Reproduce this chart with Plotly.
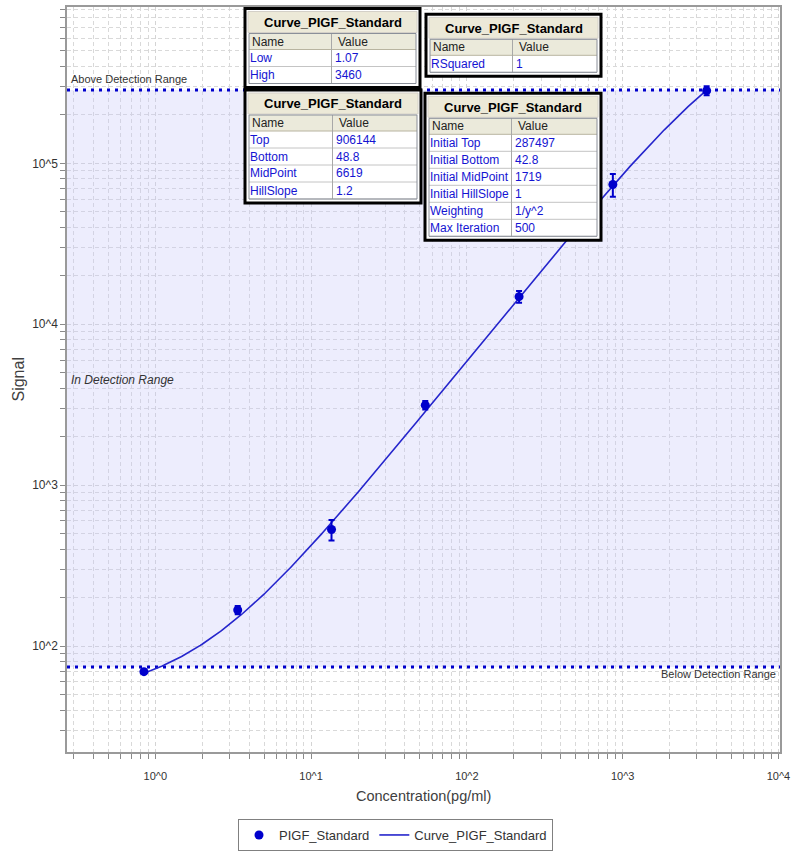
import numpy as np
import plotly.graph_objects as go

# ---- standard measurements -------------------------------------------------
conc = [0.845, 3.38, 13.52, 54.06, 216.25, 865.0, 3460.0]          # pg/ml
signal = [69.5, 168, 531, 3145, 14840, 73800, 282700]
signal_sd = [2, 10, 78, 190, 1230, 11900, 18000]

# ---- fit results (4-parameter logistic) ------------------------------------
fit_names = ["Top", "Bottom", "MidPoint", "HillSlope"]
fit_values = [906144, 48.8, 6619, 1.2]

range_names = ["Low", "High"]
range_values = [1.07, 3460]

gof_names = ["RSquared"]
gof_values = ["1"]

init_names = ["Initial Top", "Initial Bottom", "Initial MidPoint",
              "Initial HillSlope", "Weighting", "Max Iteration"]
init_values = ["287497", "42.8", "1719", "1", "1/y^2", "500"]

x_tick_vals = [1, 10, 100, 1000, 10000]
x_tick_text = ["10^0", "10^1", "10^2", "10^3", "10^4"]
y_tick_vals = [100, 1000, 10000, 100000]
y_tick_text = ["10^2", "10^3", "10^4", "10^5"]

TABLE_TITLE = "Curve_PIGF_Standard"

# ---- page geometry ---------------------------------------------------------
W, H = 791, 852
ML, MR, MT, MB = 67, 11, 7, 100
PW, PH = W - ML - MR, H - MT - MB

X_RANGE = [-0.567, 4.01]
Y_RANGE = [1.343, 5.971]

BLUE = "#0000CC"
FONT = "Liberation Sans, Arial, sans-serif"


def xp(px):
    return (px - ML) / PW


def yp(py):
    return (MT + PH - py) / PH


def logistic4(x, top, bottom, mid, hill):
    x = np.asarray(x, dtype=float)
    return bottom + (top - bottom) / (1.0 + (mid / x) ** hill)


top, bottom, mid, hill = fit_values
low_conc, high_conc = range_values
low_sig = float(logistic4(low_conc, top, bottom, mid, hill))
high_sig = float(logistic4(high_conc, top, bottom, mid, hill))

x_lo, x_hi = 10 ** X_RANGE[0], 10 ** X_RANGE[1]

fig = go.Figure()

# detection band
fig.add_trace(go.Scatter(
    x=[x_lo, x_hi, x_hi, x_lo, x_lo], y=[low_sig, low_sig, high_sig, high_sig, low_sig],
    fill="toself", fillcolor="rgba(200,200,250,0.33)", line=dict(width=0),
    mode="lines", hoverinfo="skip", showlegend=False))

# detection limits
for lvl in (low_sig, high_sig):
    fig.add_trace(go.Scatter(
        x=[x_lo, x_hi], y=[lvl, lvl], mode="lines",
        line=dict(color=BLUE, width=3, dash="3px,5px"),
        hoverinfo="skip", showlegend=False))

# standards with error bars
fig.add_trace(go.Scatter(
    x=conc, y=signal, mode="markers", name="PIGF_Standard",
    marker=dict(color=BLUE, size=9, symbol="circle"),
    error_y=dict(type="data", array=signal_sd, color=BLUE, thickness=2, width=3)))

# fitted curve
xc = np.geomspace(min(conc), max(conc), 400)
fig.add_trace(go.Scatter(
    x=xc, y=logistic4(xc, top, bottom, mid, hill), mode="lines",
    name="Curve_PIGF_Standard", line=dict(color="#2525CC", width=1.6)))

# keep the points drawn above the curve
fig.data = fig.data[:3] + (fig.data[4], fig.data[3])
fig.update_layout(legend_traceorder="reversed")


def minor_vals(k0, k1):
    return [m * 10 ** k for k in range(k0, k1 + 1) for m in range(2, 10)]


axis_common = dict(
    type="log", showline=True, linecolor="#9A9A9A", linewidth=1.5, mirror=True,
    ticks="outside", ticklen=5, tickcolor="#8A8A8A", tickwidth=1,
    showgrid=True, gridcolor="#D4D4D4", griddash="4px,3px", gridwidth=1,
    zeroline=False, tickmode="array", automargin=False,
)

fig.update_xaxes(
    **axis_common, range=X_RANGE, tickvals=x_tick_vals, ticktext=x_tick_text,
    tickfont=dict(family=FONT, size=11, color="#333333"), ticklabelstandoff=8,
    minor=dict(tickmode="array", tickvals=minor_vals(-1, 3), ticks="outside", ticklen=5,
               tickcolor="#8A8A8A", showgrid=True, gridcolor="#D9D9D9", griddash="4px,3px"),
)
fig.update_yaxes(
    **axis_common, range=Y_RANGE, tickvals=y_tick_vals, ticktext=y_tick_text,
    tickfont=dict(family=FONT, size=12, color="#333333"),
    minor=dict(tickmode="array", tickvals=minor_vals(1, 5), ticks="outside", ticklen=5,
               tickcolor="#8A8A8A", showgrid=True, gridcolor="#D9D9D9", griddash="4px,3px"),
)

annotations = [
    dict(text="Concentration(pg/ml)", xref="paper", yref="paper", x=0.5, y=yp(796),
         xanchor="center", yanchor="middle",
         showarrow=False, font=dict(family=FONT, size=14.5, color="#404040")),
    dict(text="Signal", xref="paper", yref="paper", x=xp(18), y=0.5, textangle=-90,
         xanchor="center", yanchor="middle",
         showarrow=False, font=dict(family=FONT, size=16, color="#404040")),
    dict(text="Above Detection Range", xref="paper", yref="y", x=0.003,
         y=np.log10(high_sig), xanchor="left", yanchor="bottom", yshift=3,
         showarrow=False, font=dict(family=FONT, size=11, color="#333333")),
    dict(text="Below Detection Range", xref="paper", yref="y", x=0.997,
         y=np.log10(low_sig), xanchor="right", yanchor="top", yshift=1,
         showarrow=False, font=dict(family=FONT, size=11, color="#333333")),
    dict(text="<i>In Detection Range</i>", xref="paper", yref="paper", x=0.003,
         y=0.5, xanchor="left", yanchor="middle",
         showarrow=False, font=dict(family=FONT, size=12, color="#333333")),
]
shapes = []


def fmt(v):
    return v if isinstance(v, str) else f"{v:g}"


def add_table(x0, x1, y0, divider, names, values):
    n = len(names)
    row_h = 17
    body_top = y0 + 41
    y1 = body_top + row_h * n + 4
    # frame and panels
    shapes.append(dict(type="rect", xref="paper", yref="paper",
                       x0=xp(x0), x1=xp(x1), y0=yp(y1), y1=yp(y0),
                       fillcolor="#FFFFFF", line=dict(color="#000000", width=3)))
    shapes.append(dict(type="rect", xref="paper", yref="paper",
                       x0=xp(x0 + 3), x1=xp(x1 - 3), y0=yp(y0 + 24), y1=yp(y0 + 3),
                       fillcolor="#ECE9D8", line=dict(color="#D4D0C8", width=1)))
    shapes.append(dict(type="rect", xref="paper", yref="paper",
                       x0=xp(x0 + 4), x1=xp(x1 - 4), y0=yp(body_top), y1=yp(y0 + 25),
                       fillcolor="#EBEADB", line=dict(width=0)))
    for i in range(1, n + 1):
        yy = body_top + row_h * i
        shapes.append(dict(type="line", xref="paper", yref="paper",
                           x0=xp(x0 + 4), x1=xp(x1 - 4), y0=yp(yy), y1=yp(yy),
                           line=dict(color="#C4C4C4", width=1)))
    shapes.append(dict(type="line", xref="paper", yref="paper",
                       x0=xp(x0 + 4), x1=xp(x1 - 4), y0=yp(body_top), y1=yp(body_top),
                       line=dict(color="#B8B4A0", width=1)))
    shapes.append(dict(type="line", xref="paper", yref="paper",
                       x0=xp(divider), x1=xp(divider), y0=yp(y1 - 4), y1=yp(y0 + 25),
                       line=dict(color="#A8A8A8", width=1)))
    shapes.append(dict(type="rect", xref="paper", yref="paper",
                       x0=xp(x0 + 4), x1=xp(x1 - 4), y0=yp(y1 - 4), y1=yp(y0 + 25),
                       fillcolor="rgba(0,0,0,0)", line=dict(color="#8A8F99", width=1)))
    # texts
    annotations.append(dict(text=f"<b>{TABLE_TITLE}</b>", xref="paper", yref="paper",
                            x=xp((x0 + x1) / 2), y=yp(y0 + 14), showarrow=False,
                            xanchor="center", yanchor="middle",
                            font=dict(family=FONT, size=13, color="#000000")))
    for label, xx in (("Name", x0 + 5), ("Value", divider + 4)):
        annotations.append(dict(text=label, xref="paper", yref="paper", x=xp(xx),
                                y=yp(y0 + 33), xanchor="left", yanchor="middle",
                                showarrow=False,
                                font=dict(family=FONT, size=12, color="#222222")))
    for i, (nm, val) in enumerate(zip(names, values)):
        yy = yp(body_top + row_h * i + 8.5)
        annotations.append(dict(text=nm, xref="paper", yref="paper", x=xp(x0 + 3),
                                y=yy, xanchor="left", yanchor="middle", showarrow=False,
                                font=dict(family=FONT, size=12, color="#1414D2")))
        annotations.append(dict(text=fmt(val), xref="paper", yref="paper",
                                x=xp(divider + 1), y=yy, xanchor="left",
                                yanchor="middle", showarrow=False,
                                font=dict(family=FONT, size=12, color="#1414D2")))


add_table(245, 420, 8.5, 331.5, range_names, range_values)
add_table(426, 601, 14.3, 512.5, gof_names, gof_values)
add_table(245, 421, 90, 332.5, fit_names, fit_values)
add_table(425, 601, 93.3, 511.5, init_names, init_values)

fig.update_layout(
    width=W, height=H, autosize=False,
    margin=dict(l=ML, r=MR, t=MT, b=MB, autoexpand=False),
    paper_bgcolor="#FFFFFF", plot_bgcolor="#FFFFFF",
    showlegend=True,
    legend=dict(orientation="h", x=xp(395.5), xanchor="center", y=yp(819), yanchor="top",
                bordercolor="#808080", borderwidth=1, bgcolor="#FFFFFF",
                font=dict(family=FONT, size=13, color="#333333"),
                itemwidth=30, tracegroupgap=0),
    annotations=annotations,
    shapes=shapes,
)

fig.write_html("out.html")
